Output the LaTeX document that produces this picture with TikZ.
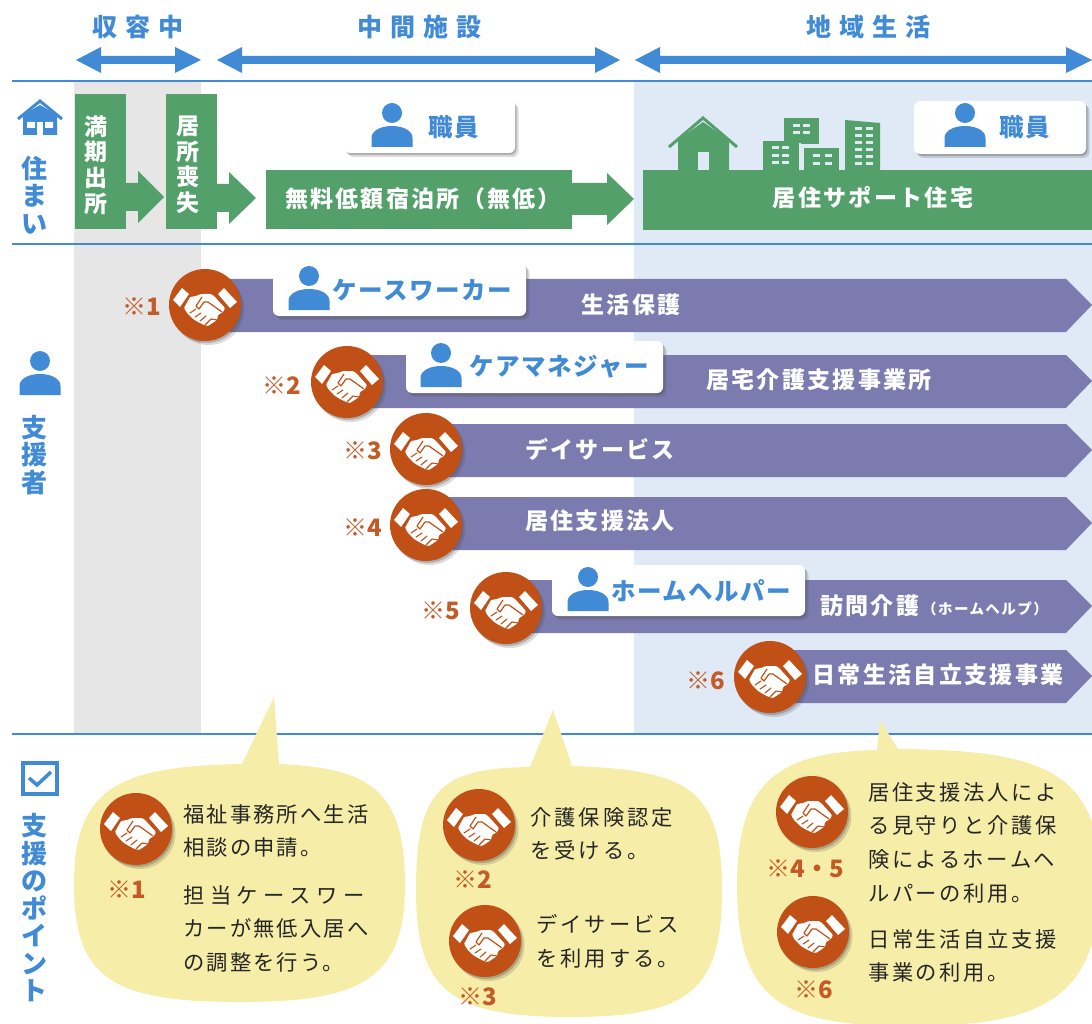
\documentclass[tikz,border=0pt]{standalone}
\usepackage{fontspec}
\usetikzlibrary{shadows}
\setmainfont{Noto Sans CJK JP}
\definecolor{headblue}{HTML}{418BD6}
\definecolor{blockgreen}{HTML}{53A06B}
\definecolor{bandpurple}{HTML}{7C7BB0}
\definecolor{shakeorange}{HTML}{C05015}
\definecolor{markorange}{HTML}{C45A26}
\definecolor{tipyellow}{HTML}{F6EDA8}
\definecolor{paleblue}{HTML}{DFEAF6}
\definecolor{palegray}{HTML}{E6E6E6}
\tikzset{
    softshadow/.style={
        drop shadow={shadow xshift=3.5pt, shadow yshift=-4pt, fill=black!70, opacity=.2},
        drop shadow={shadow xshift=1.5pt, shadow yshift=-2pt, fill=black!70, opacity=.3}},
    person/.pic={
        \fill[headblue] (0,-14) circle (10);
        \fill[headblue] (-20.5,20) -- (-20.5,11) .. controls (-20.5,3) and (-10,-1) .. (0,-1)
            .. controls (10,-1) and (20.5,3) .. (20.5,11) -- (20.5,20) -- cycle;
    },
    shake/.pic={
        \fill[white] (-32,-5) -- (-23,-17) -- (-16,-11) -- (-25,2) -- cycle;
        \fill[white] (32,-3) -- (19,-17) -- (13,-11) -- (25,3) -- cycle;
        \fill[white, rounded corners=1pt] (-15,-8) -- (-9,-9) -- (-4,-11) -- (6,-11) -- (9,-9)
            -- (20,3) -- (18,7) -- (13,10) -- (12,15) -- (3,21) -- (-1,20) -- (-7,17) -- (-12,14)
            -- (-18,8) -- (-21,3) -- cycle;
        \draw[shakeorange, line width=1.2pt, line join=round]
            (-3,-8) -- (-9,1) -- (-6,4) -- (-1,-3) -- (3,-3) -- (17,7);
        \draw[shakeorange, line width=1.1pt, line cap=round]
            (-15,8) -- (-9,4) (-10,12) -- (-4,8) (-5,16) -- (1,11) (0,20) -- (6,14) (6,14) -- (12,15);
    }
}
\begin{document}
\begin{tikzpicture}[
        x=1pt, y=-1pt,
        headlabel/.style={text=headblue, inner sep=0pt, font=\fontsize{25}{28}\selectfont\bfseries\addfontfeature{LetterSpace=32}},
        sidelabel/.style={text=headblue, inner sep=0pt, align=center, font=\fontsize{26}{27.5}\selectfont\bfseries},
        blocklabel/.style={text=white, inner sep=0pt, align=center, font=\fontsize{23}{25.6}\selectfont\bfseries},
        bandlabel/.style={text=white, inner sep=0pt, font=\fontsize{23}{26}\selectfont\bfseries\addfontfeature{LetterSpace=10}},
        cardname/.style={text=headblue, inner sep=0pt, font=\fontsize{24.5}{28}\selectfont\bfseries\addfontfeature{LetterSpace=6}},
        card/.style={fill=white, rounded corners=6pt, softshadow, inner sep=0pt},
        shakedisc/.style={circle, fill=shakeorange, minimum size=72pt, inner sep=0pt, softshadow},
        markone/.style={text=markorange, inner sep=0pt, font=\fontsize{24}{26}\selectfont\bfseries},
        tiptext/.style={text=black!85, inner sep=0pt, align=left, anchor=north west, font=\fontsize{21.3}{33.7}\selectfont\addfontfeature{LetterSpace=#1}},
        tiptext/.default=10
    ]
    \clip (0,0) rectangle (1092,1024);
    \fill[palegray] (74,81) rectangle (201,734);
    \fill[paleblue] (634,81) rectangle (1092,734);
    \foreach \ly in {81, 244, 734}
        \draw[headblue, line width=2.4pt] (12,\ly) -- (1092,\ly);
    % Header arrows
    \foreach \xa/\xb/\xc/\xd in {76/101/175/201, 217/242/595/620, 635/660/1066/1092}
        \fill[headblue] (\xa,60) -- (\xb,47) -- (\xb,56) -- (\xc,56) -- (\xc,47) -- (\xd,60)
            -- (\xc,73) -- (\xc,64) -- (\xb,64) -- (\xb,73) -- cycle;
    \node[headlabel] (stay) at (138,27) {収容中};
    \node[headlabel] (middle) at (419,27) {中間施設};
    \node[headlabel] (local) at (868,27) {地域生活};
    % Left column
    \fill[headblue] (23,115) -- (40,105) -- (57,115) -- (57,135) -- (23,135) -- cycle;
    \draw[headblue, line width=3pt] (18,119) -- (40,101) -- (62,119);
    \fill[white] (27,122) rectangle (35,128) (45,122) rectangle (53,128);
    \fill[white] (37,135) rectangle (43,122);
    \node[sidelabel] (home) at (34,195) {住\\ま\\い};
    \pic at (40,375) {person};
    \node[sidelabel] (help) at (34,455) {支\\援\\者};
    \draw[headblue, line width=3.5pt] (23,763) rectangle (57,794);
    \draw[headblue, line width=3.5pt] (29,778) -- (37,785) -- (51,772);
    \node[sidelabel] (point) at (34,908) {支\\援\\の\\ポ\\イ\\ン\\ト};
    % Housing row
    \fill[blockgreen] (75,94) rectangle (126,229);
    \fill[blockgreen] (166,94) rectangle (217,229);
    \fill[blockgreen] (266,170) rectangle (572,229);
    \fill[blockgreen] (643,170) rectangle (1092,230);
    \foreach \xa/\xb/\xc/\my/\hh/\hs in {126/138/164/197/26/14, 217/229/256/198/26/14, 572/607/634/199/26/16}
        \fill[blockgreen] (\xa,\my-\hs) -- (\xb,\my-\hs) -- (\xb,\my-\hh) -- (\xc,\my)
            -- (\xb,\my+\hh) -- (\xb,\my+\hs) -- (\xa,\my+\hs) -- cycle;
    \node[blocklabel] (full) at (96,165) {満\\期\\出\\所};
    \node[blocklabel] (lost) at (188,165) {居\\所\\喪\\失};
    \node[bandlabel] (free) at (423,199) {無料低額宿泊所（無低）};
    \node[bandlabel] (house) at (873,198) {居住サポート住宅};
    % Town
    \fill[blockgreen] (678,170) -- (678,140) -- (703,122) -- (729,140) -- (729,170) -- cycle;
    \draw[blockgreen, line width=3pt] (669,147) -- (703,118) -- (737,147);
    \fill[paleblue] (698,152) rectangle (709,170);
    \fill[blockgreen] (763,141) rectangle (799,170);
    \fill[blockgreen] (784,118) rectangle (819,144);
    \fill[blockgreen] (804,148) rectangle (839,170);
    \fill[blockgreen] (845,120) -- (880,123) -- (880,170) -- (845,170) -- cycle;
    \draw[paleblue, line width=1.5pt] (799,144) -- (801,144) (803,146) -- (821,146);
    \foreach \wx/\wy in {772/146, 782/146, 772/154, 782/154, 772/161, 782/161, 793/124, 803/124, 793/131, 803/131,
            813/154, 825/154, 813/162, 825/162, 855/127, 866/127, 855/134, 866/134, 855/141, 866/141, 855/148, 866/148, 855/155, 866/155, 855/162, 866/162}
        \fill[paleblue] (\wx,\wy) rectangle ++(7,3);
    \foreach \cardname/\xa/\xb/\ya/\yb/\px/\tx/\ty/\ctext in {
            cardone/344/515/100/153/392/454/127/職員,
            cardtwo/914/1086/101/154/965/1025/127/職員}{
        \node[card, minimum width=\xb pt-\xa pt, minimum height=\yb pt-\ya pt] (\cardname) at ({(\xa+\xb)/2},{(\ya+\yb)/2}) {};
        \pic at (\px,\ty) {person};
        \node[cardname] (\cardname text) at (\tx,\ty) {\ctext};
    }
    % Bands
    \foreach \xa/\ya in {205/279, 347/355, 426/424, 426/497, 506/580, 770/650}
        \fill[bandpurple] (\xa,\ya) -- (1066,\ya) -- (1092,\ya+26) -- (1066,\ya+53) -- (\xa,\ya+53) -- cycle;
    \node[bandlabel] (band1) at (631,305) {生活保護};
    \node[bandlabel] (band2) at (819,380) {居宅介護支援事業所};
    \node[bandlabel] (band3) at (600,449) {デイサービス};
    \node[bandlabel] (band4) at (600,521) {居住支援法人};
    \node[bandlabel, anchor=west] (band5) at (820,606) {訪問介護\hspace{3pt}{\fontsize{14.5}{15}\selectfont （ホームヘルプ）}};
    \node[bandlabel] (band6) at (938,675) {日常生活自立支援事業};
    % Cards on bands
    \foreach \cardname/\xa/\xb/\ya/\yb/\px/\tx/\ty/\ctext in {
            worker/273/526/263/316/309/422/290/ケースワーカー,
            manager/406/663/341/393/441/559/367/ケアマネジャー,
            helper/552/805/565/616/588/701/591/ホームヘルパー}{
        \node[card, minimum width=\xb pt-\xa pt, minimum height=\yb pt-\ya pt] (\cardname) at ({(\xa+\xb)/2},{(\ya+\yb)/2}) {};
        \pic at (\px,\ty) {person};
        \node[cardname] (\cardname text) at (\tx,\ty) {\ctext};
    }
    % Discs on bands
    \foreach \mk/\cx/\cy/\mx/\my in {1/205/305/142/307, 2/347/382/282/386, 3/426/449/363/451,
            4/426/525/363/528, 5/506/608/441/611, 6/770/677/706/681}{
        \node[shakedisc] (disc\mk) at (\cx,\cy) {};
        \pic at (disc\mk) {shake};
        \node[markone] (mark\mk) at (\mx,\my) {※\mk};
    }
    % Speech bubbles
    \fill[tipyellow] (242,764) -- (274,697) -- (279,764) .. controls (370,768) and (405,790) .. (405,885)
        .. controls (405,980) and (360,1002) .. (240,1002) .. controls (115,1002) and (74,980) .. (74,885)
        .. controls (74,790) and (115,766) .. (242,764) -- cycle;
    \fill[tipyellow] (530,767) -- (553,710) -- (572,766) .. controls (690,770) and (722,790) .. (722,890)
        .. controls (722,990) and (690,1017) .. (570,1017) .. controls (450,1017) and (416,990) .. (416,890)
        .. controls (416,790) and (440,768) .. (530,767) -- cycle;
    \fill[tipyellow] (877,750) -- (880,720) -- (898,749) .. controls (1040,750) and (1100,770) .. (1100,880)
        .. controls (1100,1000) and (1040,1026) .. (910,1026) .. controls (780,1026) and (737,1000) .. (737,885)
        .. controls (737,780) and (780,752) .. (877,750) -- cycle;
    \foreach \dn/\cx/\cy/\mx/\my/\mtext in {tipa/136/829/127/890/※1, tipb/479/825/473/880/※2, tipc/485/941/478/997/※3,
            tipd/812/812/805/869/※4・5, tipe/813/932/814/990/※6}{
        \node[shakedisc] (\dn) at (\cx,\cy) {};
        \pic at (\dn) {shake};
        \node[markone] (\dn mark) at (\mx,\my) {\mtext};
    }
    \node[tiptext] (tip1) at (183,804) {福祉事務所へ生活\\相談の申請。};
    \node[tiptext] (tip2) at (183,885) {{\addfontfeature{LetterSpace=26}担当ケースワー}\\カーが無低入居へ\\の調整を行う。};
    \node[tiptext=14] (tip3) at (530,807) {介護保険認定\\を受ける。};
    \node[tiptext=14] (tip4) at (536,914) {デイサービス\\を利用する。};
    \node[tiptext=12] (tip5) at (868,782) {居住支援法人によ\\る見守りと介護保\\険によるホームヘ\\ルパーの利用。};
    \node[tiptext=12] (tip6) at (868,929) {日常生活自立支援\\事業の利用。};
\end{tikzpicture}
\end{document}
